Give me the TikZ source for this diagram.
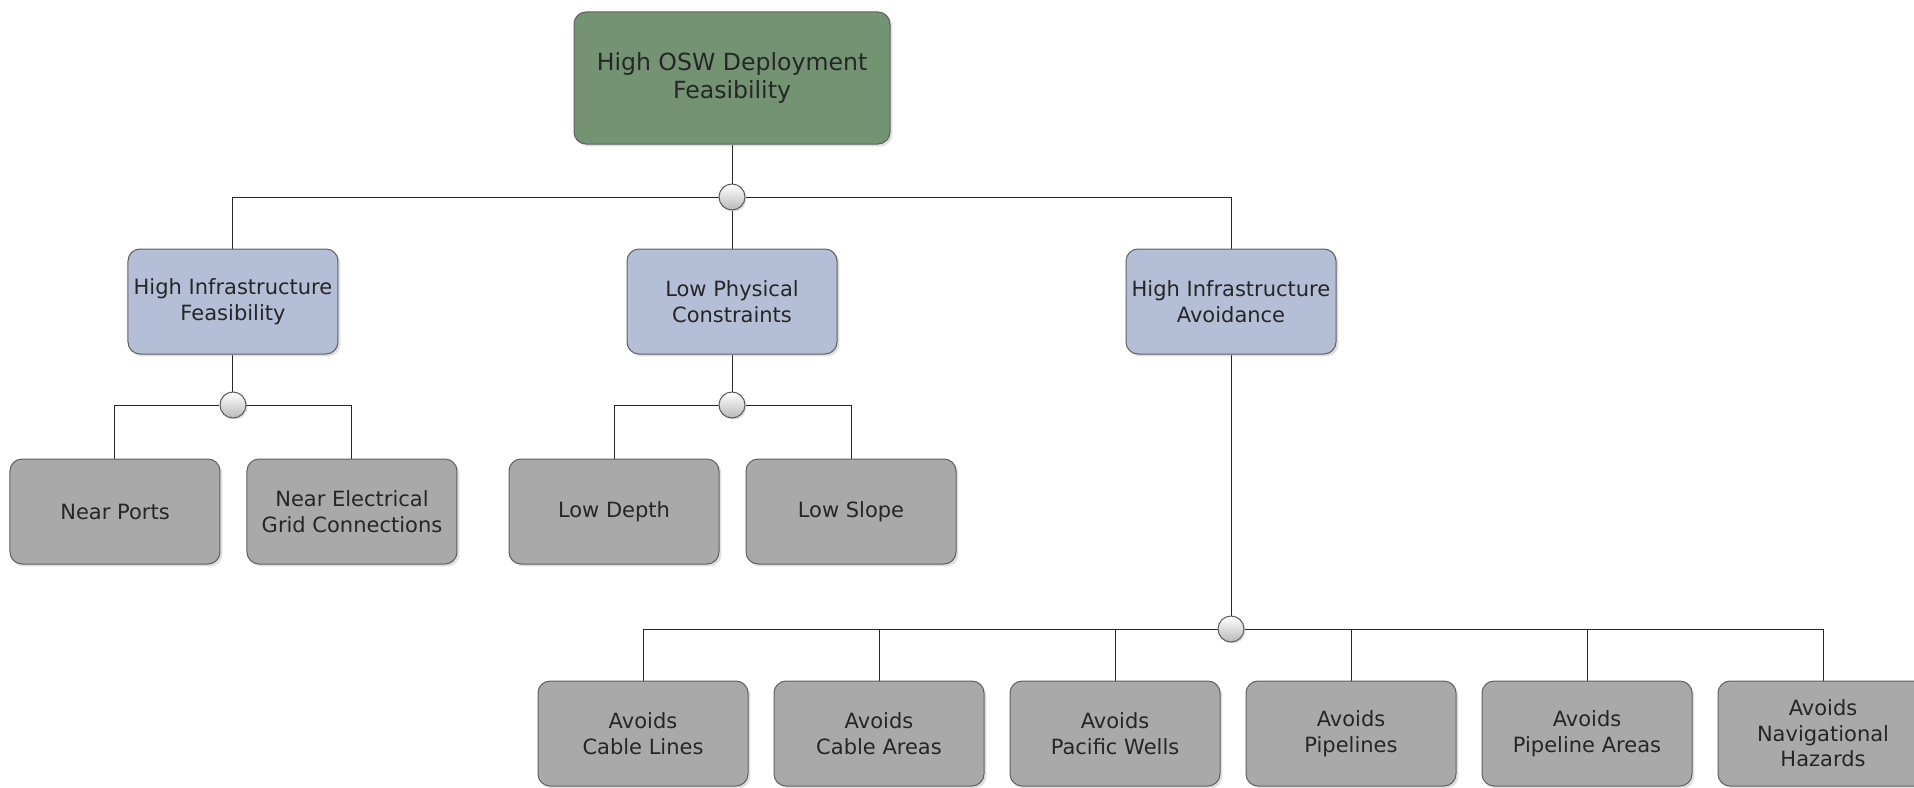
\documentclass[tikz,border=0pt]{standalone}
\usepackage{fontspec}
\setmainfont{DejaVu Sans}
\usetikzlibrary{positioning, shadows, backgrounds}
\definecolor{rootgreen}{HTML}{739373}
\definecolor{subblue}{HTML}{B4BED6}
\definecolor{leafgray}{HTML}{A9A9A9}
\tikzset{
  % --- goal boxes (root | sub-goal | leaf criterion) ---
  goalbox/.style={
    draw=gray!75!black, rounded corners=6pt, align=center, text=black!85,
    font=\fontsize{10.5}{12.8}\selectfont, minimum width=105pt,
    minimum height=52.5pt, inner sep=2pt, line width=0.5pt,
    drop shadow={shadow xshift=1.2pt, shadow yshift=-1.2pt, opacity=0.25},
  },
  rootgoal/.style={goalbox, fill=rootgreen, minimum width=158pt,
    minimum height=66pt, font=\fontsize{11.8}{14}\selectfont},
  subgoal/.style={goalbox, fill=subblue},
  leafgoal/.style={goalbox, fill=leafgray},
  % --- AND junctions and links ---
  junction/.style={circle, draw=gray!70!black, top color=white,
    bottom color=gray!55, minimum size=13pt, inner sep=0pt, line width=0.5pt,
    drop shadow={shadow xshift=0.8pt, shadow yshift=-0.8pt, opacity=0.25}},
  link/.style={line width=0.5pt, draw=black!85},
}

\begin{document}
\begin{tikzpicture}[node distance=19pt and 12.5pt]
    \useasboundingbox (-366pt,39pt) rectangle (591pt,-354.5pt);

    % ---- Root goal ----
    \node[rootgoal] (osw) {High OSW Deployment\\Feasibility};
    \node[junction, below=19.5pt of osw] (j1) {};

    % ---- Sub-goals ----
    \node[subgoal, below=of j1] (lpc) {Low Physical\\Constraints};
    \node[subgoal, left=144pt of lpc] (hif) {High Infrastructure\\Feasibility};
    \node[subgoal, right=144pt of lpc] (hia) {High Infrastructure\\Avoidance};

    % ---- Infrastructure feasibility criteria ----
    \node[junction, below=18.5pt of hif] (j2) {};
    \node[leafgoal, below=20pt of j2, xshift=-59pt] (ports) {Near Ports};
    \node[leafgoal, right=13pt of ports] (grid) {Near Electrical\\Grid Connections};

    % ---- Physical constraint criteria ----
    \node[junction, below=18.5pt of lpc] (j3) {};
    \node[leafgoal, below=20pt of j3, xshift=-59pt] (depth) {Low Depth};
    \node[leafgoal, right=13pt of depth] (slope) {Low Slope};

    % ---- Avoidance criteria ----
    \node[junction, below=130.5pt of hia] (j4) {};
    \node[leafgoal, below=of j4, xshift=-294pt] (a1) {Avoids\\Cable Lines};
    \node[leafgoal, right=of a1] (a2) {Avoids\\Cable Areas};
    \node[leafgoal, right=of a2] (a3) {Avoids\\Pacific Wells};
    \node[leafgoal, right=of a3] (a4) {Avoids\\Pipelines};
    \node[leafgoal, right=of a4] (a5) {Avoids\\Pipeline Areas};
    \node[leafgoal, right=of a5] (a6) {Avoids\\Navigational\\Hazards};

    % ---- Links (behind the junctions) ----
    \begin{scope}[on background layer]
      \draw[link] (osw) -- (j1);
      \draw[link] (j1) -- (lpc);
      \draw[link] (j1) -| (hif);
      \draw[link] (j1) -| (hia);
      \draw[link] (hif) -- (j2);
      \foreach \c in {ports,grid}{ \draw[link] (j2) -| (\c); }
      \draw[link] (lpc) -- (j3);
      \foreach \c in {depth,slope}{ \draw[link] (j3) -| (\c); }
      \draw[link] (hia) -- (j4);
      \foreach \c in {a1,a2,a3,a4,a5,a6}{ \draw[link] (j4) -| (\c); }
    \end{scope}
  \end{tikzpicture}
\end{document}
